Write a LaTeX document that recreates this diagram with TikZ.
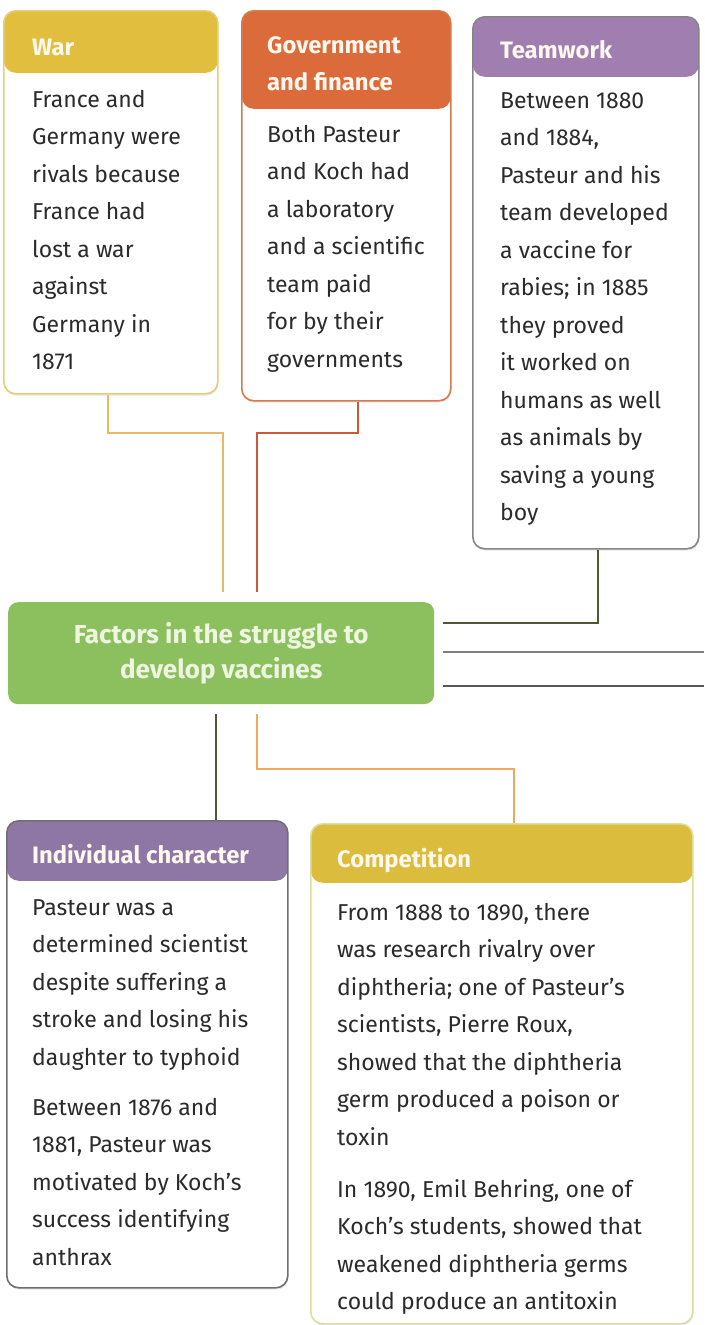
\documentclass[tikz,border=0pt]{standalone}
\usepackage{fontspec}
\setmainfont{Fira Sans}
\usetikzlibrary{shadows}

\definecolor{bodyink}{HTML}{2B2B2B}
\definecolor{headink}{HTML}{FFF8EE}
\definecolor{warhead}{HTML}{E2BE3E}
\definecolor{warrim}{HTML}{E3CF78}
\definecolor{govhead}{HTML}{DB6B3B}
\definecolor{govrim}{HTML}{D77A4E}
\definecolor{teamhead}{HTML}{A07FB0}
\definecolor{teamrim}{HTML}{858585}
\definecolor{indhead}{HTML}{8E77A5}
\definecolor{indrim}{HTML}{707070}
\definecolor{comphead}{HTML}{DCBC3C}
\definecolor{comprim}{HTML}{DCDF9E}
\definecolor{hubfill}{HTML}{8CBF5D}
\definecolor{hubink}{HTML}{EEF6E2}
\definecolor{warwire}{HTML}{EAB862}
\definecolor{govwire}{HTML}{C9583D}
\definecolor{olivewire}{HTML}{4C5A32}
\definecolor{greywire}{HTML}{7E7E7E}
\definecolor{darkwire}{HTML}{585858}
\definecolor{compwire}{HTML}{F0A860}

\newcommand\cardtext{\fontsize{23}{37.5}\selectfont}
\newcommand\cardhead{\fontsize{23.8}{37}\selectfont\bfseries}

\tikzset{
  card/.style n args={3}{
    rectangle, rounded corners=12pt, draw=#2, line width=1.6pt,
    fill=white, inner sep=0pt, anchor=north west,
    drop shadow={opacity=0.18, shadow xshift=0.6pt, shadow yshift=-1.8pt},
    path picture={\fill[#1] (path picture bounding box.north west)
      rectangle ([yshift=-#3]path picture bounding box.north east);}},
  cardbody/.style={anchor=north west, inner sep=0pt, align=left,
    font=\cardtext, text=bodyink},
  cardtitle/.style={anchor=base west, inner sep=0pt, align=left,
    font=\cardhead, text=headink},
  wire/.style={line width=1.8pt},
}

\begin{document}
\begin{tikzpicture}[x=1pt,y=-1pt]
\useasboundingbox (0,0) rectangle (704,1325);

% ---------- upper cards ----------
\node[card={warhead}{warrim}{62pt}, minimum width=214pt, minimum height=383pt] (war) at (3,10) {};
\node[cardtitle] (warT) at (32,55) {War};
\node[cardbody] (warB) at (32,80.75) {\strut France and\\Germany were\\rivals because\\France had\\lost a war\\against\\Germany in\\1871};

\node[card={govhead}{govrim}{98pt}, minimum width=209pt, minimum height=390pt] (gov) at (241,10) {};
% base anchor of a two-line title sits on its last line
\node[cardtitle] (govT) at (267,90) {Government\\and finance};
\node[cardbody] (govB) at (267,115.75) {\strut Both Pasteur\\and Koch had\\a laboratory\\and a scientific\\team paid\\for by their\\governments};

\node[card={teamhead}{teamrim}{60pt}, minimum width=226pt, minimum height=532pt] (team) at (472,16) {};
\node[cardtitle] (teamT) at (500,58) {Teamwork};
\node[cardbody] (teamB) at (500,81.75) {\strut Between 1880\\and 1884,\\Pasteur and his\\team developed\\a vaccine for\\rabies; in 1885\\they proved\\it worked on\\humans as well\\as animals by\\saving a young\\boy};

% ---------- central hub ----------
\node[rectangle, rounded corners=10pt, fill=hubfill, anchor=north west,
      minimum width=426pt, minimum height=102pt, inner sep=0pt,
      align=center, text=hubink, font=\fontsize{26}{35}\selectfont\bfseries]
      (hub) at (8,602) {Factors in the struggle to\\develop vaccines};

% ---------- lower cards ----------
\node[card={indhead}{indrim}{60pt}, minimum width=281pt, minimum height=467pt] (ind) at (6,820) {};
\node[cardtitle] (indT) at (32,863) {Individual character};
\node[cardbody] (indB) at (32,888.75) {\strut Pasteur was a\\determined scientist\\despite suffering a\\stroke and losing his\\daughter to typhoid\\[12.5pt]Between 1876 and\\1881, Pasteur was\\motivated by Koch’s\\success identifying\\anthrax};

\node[card={comphead}{comprim}{59pt}, minimum width=382pt, minimum height=500pt] (comp) at (310,823) {};
\node[cardtitle] (compT) at (337,867) {Competition};
\node[cardbody] (compB) at (337,893.75) {\strut From 1888 to 1890, there\\was research rivalry over\\diphtheria; one of Pasteur’s\\scientists, Pierre Roux,\\showed that the diphtheria\\germ produced a poison or\\toxin\\[14.5pt]In 1890, Emil Behring, one of\\Koch’s students, showed that\\weakened diphtheria germs\\could produce an antitoxin};

% ---------- connectors ----------
\coordinate (wb1) at (108,433);
\coordinate (wb2) at (223,433);
\draw[wire, warwire, shorten >=10pt] (war.south -| wb1) -- (wb1) -- (wb2) -- (hub.north -| wb2);

\coordinate (gb1) at (358,433);
\coordinate (gb2) at (257,433);
\draw[wire, govwire, shorten >=10pt] (gov.south -| gb1) -- (gb1) -- (gb2) -- (hub.north -| gb2);

\coordinate (tb) at (598,623);
\draw[wire, olivewire, shorten >=9pt] (team.south -| tb) -- (tb) -- (hub.east |- tb);

\coordinate (r1) at (704,652);
\coordinate (r2) at (704,686);
\draw[wire, greywire, shorten <=9pt] (hub.east |- r1) -- (r1);
\draw[wire, darkwire, shorten <=9pt] (hub.east |- r2) -- (r2);

\coordinate (ix) at (216,760);
\draw[wire, olivewire, shorten <=10pt] (hub.south -| ix) -- (ind.north -| ix);

\coordinate (cb1) at (257,769);
\coordinate (cb2) at (514,769);
\draw[wire, compwire, shorten <=10pt] (hub.south -| cb1) -- (cb1) -- (cb2) -- (comp.north -| cb2);
\end{tikzpicture}
\end{document}
